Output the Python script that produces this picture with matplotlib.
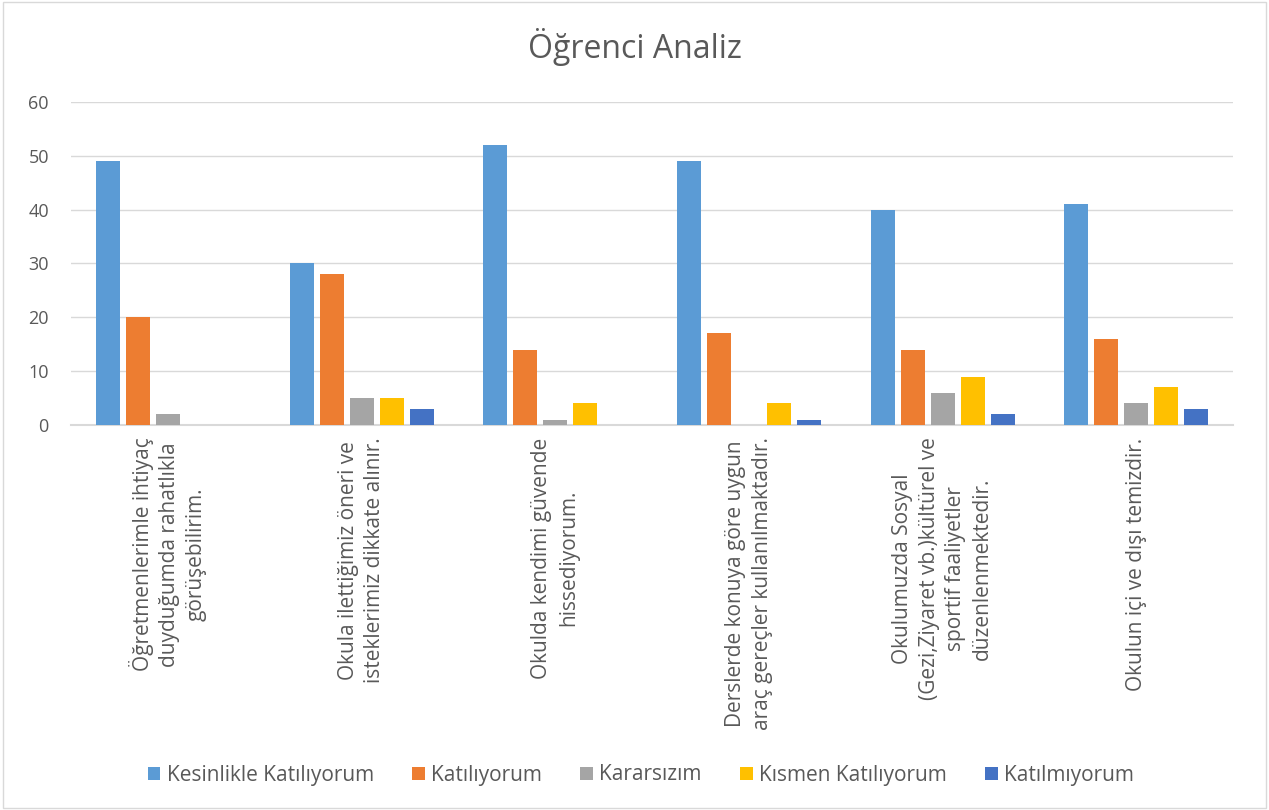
import numpy as np
import matplotlib.pyplot as plt
from matplotlib.patches import Rectangle

plt.rcParams['font.family'] = ['Open Sans', 'DejaVu Sans']

categories = [
    "Öğretmenlerimle ihtiyaç\nduyduğumda rahatlıkla\ngörüşebilirim.",
    "Okula ilettiğimiz öneri ve\nisteklerimiz dikkate alınır.",
    "Okulda kendimi güvende\nhissediyorum.",
    "Derslerde konuya göre uygun\naraç gereçler kullanılmaktadır.",
    "Okulumuzda Sosyal\n(Gezi,Ziyaret vb.)kültürel ve\nsportif faaliyetler\ndüzenlenmektedir.",
    "Okulun içi ve dışı temizdir.",
]
series_names = ["Kesinlikle Katılıyorum", "Katılıyorum", "Kararsızım",
                "Kısmen Katılıyorum", "Katılmıyorum"]
kesinlikle = [49, 30, 52, 49, 40, 41]
katiliyorum = [20, 28, 14, 17, 14, 16]
kararsizim = [2, 5, 1, 0, 6, 4]
kismen = [0, 5, 4, 4, 9, 7]
katilmiyorum = [0, 3, 0, 1, 2, 3]
colors = ['#5B9BD5', '#ED7D31', '#A5A5A5', '#FFC000', '#4472C4']

all_series = [kesinlikle, katiliyorum, kararsizim, kismen, katilmiyorum]

fig = plt.figure(figsize=(12.69, 8.10), dpi=100)
ax = fig.add_axes([0.0560, 0.4753, 0.9157, 0.3988])

x = np.arange(len(categories))
step = 0.155
width = 0.124
for i, vals in enumerate(all_series):
    ax.bar(x + (i - 2) * step, vals, width, color=colors[i], label=series_names[i], zorder=3)

ax.set_xlim(-0.5, len(categories) - 0.5)
ax.set_ylim(0, 60)
ax.set_yticks(range(0, 61, 10))
ax.grid(axis='y', color='#D9D9D9', linewidth=1, zorder=0)
for s in ['top', 'right', 'left']:
    ax.spines[s].set_visible(False)
ax.spines['bottom'].set_color('#D9D9D9')
ax.spines['bottom'].set_linewidth(1.5)
ax.tick_params(axis='both', length=0, labelcolor='#595959')
ax.tick_params(axis='y', pad=16, labelsize=13)
ax.set_xticks(x)
ax.set_xticklabels(categories, rotation=90, ha='center', va='top',
                   multialignment='center', linespacing=1.35, fontsize=15)
ax.tick_params(axis='x', pad=9)

fig.text(0.5, 1 - 47 / 810, "Öğrenci Analiz", fontsize=23, color='#595959',
         ha='center', va='center')

fig.legend(loc='center', bbox_to_anchor=(0.505, 1 - 775 / 810), ncol=5, frameon=False,
           fontsize=15, labelcolor='#595959', handlelength=0.6, handleheight=0.6,
           handletextpad=0.3, columnspacing=1.85)

fig.patches.append(Rectangle((0.002, 0.002), 0.996, 0.996, transform=fig.transFigure,
                             fill=False, edgecolor='#D9D9D9', linewidth=1))

fig.savefig('out.png', dpi=100)
